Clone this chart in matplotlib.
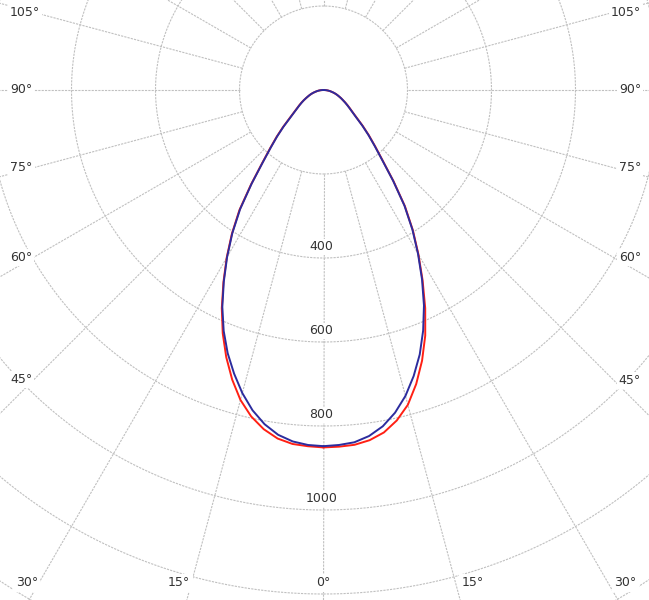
import numpy as np
import matplotlib
matplotlib.use("Agg")
import matplotlib.pyplot as plt
from matplotlib.transforms import IdentityTransform

# ---- data (cd/klm), gamma in degrees from nadir ----
gamma_deg = [0, 2.5, 5, 7.5, 10, 12.5, 15, 17.5, 20, 22.5, 25, 27.5, 30, 32.5, 35,
             37.5, 40, 42.5, 45, 47.5, 50, 52.5, 55, 57.5, 60, 62.5, 65, 67.5, 70,
             72.5, 75, 77.5, 80, 82.5, 85, 87.5, 90]
red_left = [851, 849, 846, 837, 820, 796, 764, 723, 677, 627, 573, 516, 461, 406, 349,
            283, 227, 188, 158, 131, 107, 90, 78, 69, 61, 53, 46, 40, 35,
            30, 25, 20, 16, 12, 8, 4, 0]
red_right = [851, 850, 848, 841, 828, 806, 776, 734, 686, 633, 573, 511, 452, 396, 338,
             274, 219, 182, 153, 127, 104, 88, 77, 68, 60, 52, 46, 40, 35,
             30, 25, 20, 16, 12, 8, 4, 0]
blue_left = [848, 846, 840, 828, 808, 781, 747, 708, 667, 621, 570, 514, 459, 404, 346,
             281, 225, 186, 156, 129, 105, 89, 77, 68, 60, 53, 46, 40, 35,
             30, 25, 20, 16, 12, 8, 4, 0]
blue_right = [848, 846, 842, 831, 813, 787, 754, 714, 670, 620, 566, 508, 450, 394, 336,
              272, 217, 180, 151, 125, 102, 87, 76, 67, 59, 52, 46, 40, 35,
              30, 25, 20, 16, 12, 8, 4, 0]

ring_values = [200, 400, 600, 800, 1000, 1200, 1400, 1600]
ring_labels = ["400", "600", "800", "1000"]
ring_label_values = [400, 600, 800, 1000]
spoke_angles = list(range(0, 360, 15))
angle_label_values = [0, 15, 30, 45, 60, 75, 90, 105]
angle_labels = ["0°", "15°", "30°", "45°", "60°", "75°", "90°", "105°"]

RED = "#ff2014"
BLUE = "#2c2c9e"
GRID = "#c0c0c0"
TXT = "#333333"

W, H, DPI = 649, 600, 100
fig = plt.figure(figsize=(W / DPI, H / DPI), dpi=DPI)
fig.patch.set_facecolor("white")

rmax = 1600
px_per_unit = 0.42
R = rmax * px_per_unit
cx, cy = 323.5, H - 90
ax = fig.add_axes([(cx - R) / W, (cy - R) / H, 2 * R / W, 2 * R / H],
                  projection="polar")
ax.set_theta_zero_location("S")
ax.set_theta_direction(1)
ax.set_ylim(0, rmax)
ax.grid(False)
ax.set_xticks([])
ax.set_yticks([])
ax.spines["polar"].set_visible(False)
ax.patch.set_alpha(0)

dash = (0, (2.0, 1.0))
th = np.linspace(0, 2 * np.pi, 721)
for rv in ring_values:
    ax.plot(th, np.full_like(th, rv), color=GRID, lw=0.8, linestyle=dash, zorder=1)
for a in spoke_angles:
    t = np.deg2rad(a)
    ax.plot([t, t], [ring_values[0], rmax], color=GRID, lw=0.8, linestyle=dash, zorder=1)

g = np.deg2rad(gamma_deg)
ax.plot(-g, red_left, color=RED, lw=1.4, zorder=4, solid_joinstyle="round")
ax.plot(g, red_right, color=RED, lw=1.4, zorder=4, solid_joinstyle="round")
ax.plot(-g, blue_left, color=BLUE, lw=1.4, zorder=5, solid_joinstyle="round")
ax.plot(g, blue_right, color=BLUE, lw=1.4, zorder=5, solid_joinstyle="round")

for lbl, rv in zip(ring_labels, ring_label_values):
    ax.annotate(lbl, xy=(0, rv), xytext=(-2, 11), textcoords="offset pixels",
                ha="center", va="center", fontsize=9, color=TXT, zorder=6,
                bbox=dict(fc="white", ec="none", pad=0.8))

# angle labels where the spokes leave the picture
fig.canvas.draw()
c0 = ax.transData.transform((0, 0))
bottom_y = 17  # pixels from the bottom edge
side_left_x, side_right_x = 34, 614
box = dict(fc="white", ec="none", pad=1.5)
for lbl, a in zip(angle_labels, angle_label_values):
    for side in ([1] if a == 0 else [-1, 1]):
        p = ax.transData.transform((side * np.deg2rad(a), 1000.0))
        d = p - c0
        tb = (bottom_y - c0[1]) / d[1] if d[1] < 0 else np.inf
        xb = c0[0] + tb * d[0]
        if a == 0:
            fig.text(xb, bottom_y, lbl, transform=IdentityTransform(), ha="center",
                     va="center", fontsize=9, color=TXT, bbox=box, zorder=7)
        elif side < 0:
            if np.isfinite(tb) and xb >= side_left_x:
                fig.text(xb - 1, bottom_y, lbl, transform=IdentityTransform(),
                         ha="right", va="center", fontsize=9, color=TXT, bbox=box, zorder=7)
            else:
                ts = (side_left_x - c0[0]) / d[0]
                ys = c0[1] + ts * d[1]
                fig.text(10, ys, lbl, transform=IdentityTransform(),
                         ha="left", va="center", fontsize=9, color=TXT, bbox=box, zorder=7)
        else:
            if np.isfinite(tb) and xb <= side_right_x:
                fig.text(xb + 6, bottom_y, lbl, transform=IdentityTransform(),
                         ha="left", va="center", fontsize=9, color=TXT, bbox=box, zorder=7)
            else:
                ts = (side_right_x - c0[0]) / d[0]
                ys = c0[1] + ts * d[1]
                fig.text(641, ys, lbl, transform=IdentityTransform(),
                         ha="right", va="center", fontsize=9, color=TXT, bbox=box, zorder=7)

fig.savefig("out.png", dpi=DPI, facecolor="white")
